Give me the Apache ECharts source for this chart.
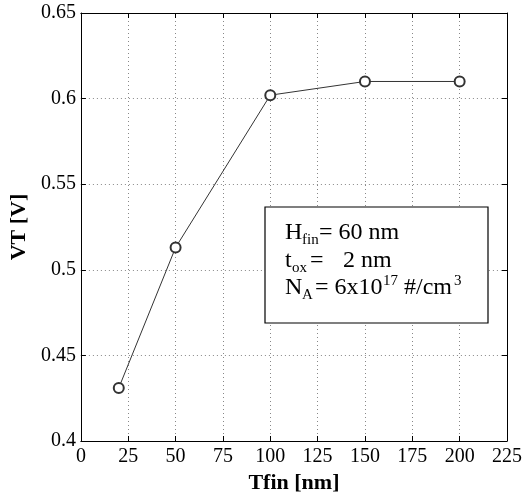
<!DOCTYPE html>
<html>
<head>
<meta charset="utf-8">
<script src="https://cdn.jsdelivr.net/npm/echarts@6/dist/echarts.min.js"></script>
<style>
  html, body { margin: 0; padding: 0; background: #fff; }
  #chart { width: 532px; height: 499px; }
</style>
</head>
<body>
<div id="chart"></div>
<script>
// data
var tfin = [20, 50, 100, 150, 200]
var vt = [0.431, 0.513, 0.602, 0.610, 0.610]

// axis ticks
var xTicks = [0, 25, 50, 75, 100, 125, 150, 175, 200, 225]
var yTicks = [0.4, 0.45, 0.5, 0.55, 0.6, 0.65]

var serif = 'Liberation Serif'

var chart = echarts.init(document.getElementById('chart'))

// common axis bits (matlab style: black frame, ticks inward, dotted grid)
function axisBase(showLabel, showGrid) {
  return {
    type: 'value',
    axisLine: { show: true, onZero: false, lineStyle: { color: '#000', width: 1 } },
    axisTick: { show: true, inside: true, length: 5, lineStyle: { color: '#000' } },
    splitLine: { show: showGrid, lineStyle: { color: '#888', type: [1, 3], width: 1 } },
    axisLabel: {
      show: showLabel,
      color: '#000',
      fontFamily: serif,
      fontSize: 20
    }
  }
}

var xMain = axisBase(true, true)
xMain.position = 'bottom'
xMain.min = xTicks[0]
xMain.max = xTicks[xTicks.length - 1]
xMain.interval = xTicks[1] - xTicks[0]
xMain.axisLabel.margin = 6
xMain.name = 'Tfin [nm]'
xMain.nameLocation = 'middle'
xMain.nameGap = 31
xMain.nameTextStyle = { color: '#000', fontFamily: serif, fontSize: 22, fontWeight: 'bold' }

var xTop = axisBase(false, false)
xTop.position = 'top'
xTop.min = xMain.min
xTop.max = xMain.max
xTop.interval = xMain.interval

var yMain = axisBase(true, true)
yMain.position = 'left'
yMain.min = yTicks[0]
yMain.max = yTicks[yTicks.length - 1]
yMain.interval = 0.05
yMain.axisLabel.margin = 5
yMain.axisLabel.formatter = function(v) {
  return String(Math.round(v * 100) / 100)
}
yMain.name = 'VT [V]'
yMain.nameLocation = 'middle'
yMain.nameGap = 50
yMain.nameTextStyle = { color: '#000', fontFamily: serif, fontSize: 22, fontWeight: 'bold' }

var yRight = axisBase(false, false)
yRight.position = 'right'
yRight.min = yMain.min
yRight.max = yMain.max
yRight.interval = yMain.interval

// text box: each piece placed by hand so sub/superscripts sit right
function txt(x, base, s, size) {
  return {
    type: 'text',
    x: x,
    y: base - size * 0.34,
    z: 10,
    style: {
      text: s,
      fill: '#000',
      font: size + 'px "' + serif + '"',
      verticalAlign: 'middle',
      align: 'left'
    }
  }
}

var big = 24
var small = 15

chart.setOption({
  animation: false,
  grid: { left: 78, right: 25, top: 13, bottom: 57, containLabel: false },
  xAxis: [xMain, xTop],
  yAxis: [yMain, yRight],
  series: [{
    type: 'line',
    xAxisIndex: 0,
    yAxisIndex: 0,
    data: tfin.map(function(t, i) { return [t, vt[i]] }),
    symbol: 'emptyCircle',
    symbolSize: 10,
    showAllSymbol: true,
    lineStyle: { color: '#333', width: 1 },
    itemStyle: { color: '#333', borderColor: '#333', borderWidth: 1 }
  }],
  graphic: [
    {
      type: 'rect',
      z: 9,
      shape: { x: 265, y: 207, width: 223, height: 116 },
      style: { fill: '#fff', stroke: '#000', lineWidth: 1.2 }
    },
    // H_fin = 60 nm
    txt(285, 241, 'H', big),
    txt(302, 245, 'fin', small),
    txt(319, 241, '= 60 nm', big),
    // t_ox = 2 nm
    txt(285, 269, 't', big),
    txt(292, 273, 'ox', small),
    txt(310, 269, '=', big),
    txt(343, 269, '2 nm', big),
    // N_A = 6x10^17 #/cm^3
    txt(285, 296, 'N', big),
    txt(302, 300, 'A', small),
    txt(315, 296, '= 6x10', big),
    txt(383, 286, '17', small),
    txt(404, 296, '#/cm', big),
    txt(454, 286, '3', small)
  ]
})
</script>
</body>
</html>
